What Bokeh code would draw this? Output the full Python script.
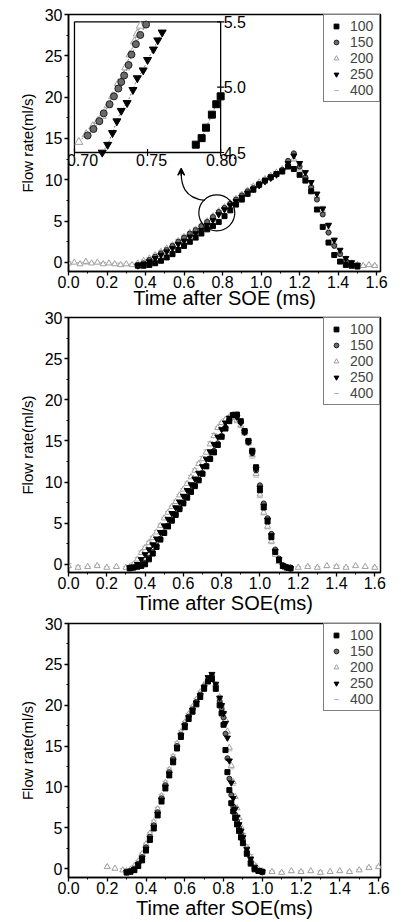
import math
from bokeh.plotting import figure
from bokeh.layouts import column
from bokeh.models import (Range1d, FixedTicker, NumeralTickFormatter, Legend, LegendItem,
                          Arrow, VeeHead)
from bokeh.core.properties import value
from bokeh.embed import file_html
from bokeh.resources import INLINE

nan = float("nan")

# ---------------- data ----------------
series_labels = ["100", "150", "200", "250", "400"]

x_ticks = [0.0, 0.2, 0.4, 0.6, 0.8, 1.0, 1.2, 1.4, 1.6]
x_minor = [0.1, 0.3, 0.5, 0.7, 0.9, 1.1, 1.3, 1.5]
y_ticks = [0, 5, 10, 15, 20, 25, 30]
y_minor = [2.5, 7.5, 12.5, 17.5, 22.5, 27.5]

# Panel 1
p1_x = [0.00, 0.03, 0.06, 0.09, 0.12, 0.15, 0.18, 0.21, 0.24, 0.27, 0.30, 0.33, 0.36, 0.39,
        0.42, 0.45, 0.48, 0.51, 0.54, 0.57, 0.60, 0.63, 0.66, 0.69, 0.72, 0.75, 0.78, 0.81,
        0.84, 0.87, 0.90, 0.93, 0.96, 0.99, 1.02, 1.05, 1.08, 1.11, 1.14, 1.17, 1.20, 1.23,
        1.26, 1.29, 1.32, 1.35, 1.38, 1.41, 1.44, 1.47, 1.50, 1.53, 1.56, 1.59]
p1_100 = [nan] * 12 + [-0.4, -0.4, -0.3, -0.1, 0.2, 0.6, 1.0, 1.5, 2.0, 2.5, 3.0, 3.5, 4.0, 4.4,
                       4.9, 5.6, 6.3, 7.0, 7.6, 8.3, 8.8, 9.4, 9.9, 10.3, 10.7, 11.0, 11.6, 11.3,
                       10.6, 9.9, 8.6, 6.4, 4.3, 2.4, 0.9, 0.1, -0.3, -0.4, -0.5] + [nan] * 3
p1_150 = [nan] * 12 + [-0.3, -0.1, 0.3, 0.7, 1.1, 1.5, 2.0, 2.5, 3.0, 3.5, 3.9, 4.4, 4.9, 5.5,
                       6.1, 6.6, 7.1, 7.6, 8.1, 8.6, 9.0, 9.5, 9.9, 10.3, 10.7, 11.2, 12.3, 13.2,
                       11.6, 10.3, 9.1, 7.6, 5.8, 3.6, 2.0, 1.0, 0.2, -0.2, -0.4] + [nan] * 3
p1_200 = [-0.1, 0.0, -0.2, 0.1, -0.1, 0.0, -0.2, -0.1, -0.2, -0.3, -0.2, -0.3, -0.1, 0.2,
          0.5, 0.9, 1.3, 1.7, 2.1, 2.6, 3.1, 3.6, 4.0, 4.5, 5.0, 5.6, 6.2, 6.7,
          7.2, 7.7, 8.2, 8.7, 9.2, 9.7, 10.1, 10.5, 10.9, 11.3, 11.9, 12.5, 11.4, 10.4,
          9.3, 8.0, 6.2, 3.8, 2.3, 1.3, 0.4, -0.1, -0.3, -0.4, -0.3, -0.4]
p1_250 = [nan] * 12 + [-0.4, -0.2, 0.1, 0.5, 0.9, 1.3, 1.7, 2.2, 2.6, 3.1, 3.5, 3.9, 4.5, 5.1,
                       5.8, 6.4, 6.9, 7.4, 7.9, 8.4, 8.9, 9.3, 9.8, 10.2, 10.6, 11.1, 12.0, 12.9,
                       12.0, 10.9, 9.7, 8.3, 6.5, 4.5, 2.7, 1.5, 0.5, 0.0, -0.3] + [nan] * 3
p1_400 = [0.1, -0.1, 0.0, -0.2, 0.0, -0.1, 0.0, -0.2, -0.1, -0.1, -0.3, -0.2, 0.0, 0.3,
          0.6, 1.0, 1.4, 1.8, 2.3, 2.8, 3.3, 3.7, 4.2, 4.6, 5.1, 5.7, 6.3, 6.8,
          7.3, 7.9, 8.4, 8.9, 9.4, 9.8, 10.2, 10.6, 11.0, 11.4, 11.8, 12.3, 12.0, 11.0,
          9.8, 8.5, 6.8, 4.8, 3.0, 1.7, 0.7, 0.1, -0.2, -0.3, -0.4, -0.3]

# Panel 1 inset (zoom of 0.70-0.80 ms)
inset_x_ticks = [0.70, 0.75, 0.80]
inset_y_ticks = [4.5, 5.0, 5.5]
inset_x_100 = [0.783, 0.787, 0.790, 0.794, 0.797, 0.800]
inset_y_100 = [4.56, 4.61, 4.69, 4.79, 4.87, 4.93]
inset_x_150 = [0.709, 0.713, 0.717, 0.720, 0.724, 0.727, 0.730, 0.732, 0.734, 0.737, 0.739, 0.742, 0.745, 0.749]
inset_y_150 = [4.63, 4.68, 4.74, 4.80, 4.87, 4.93, 4.99, 5.04, 5.09, 5.17, 5.25, 5.33, 5.40, 5.48]
inset_x_200 = [0.703, 0.708, 0.7125, 0.716, 0.719, 0.723, 0.726, 0.730, 0.735, 0.738, 0.741, 0.743, 0.745]
inset_y_200 = [4.58, 4.64, 4.70, 4.74, 4.78, 4.86, 4.93, 5.03, 5.15, 5.25, 5.35, 5.41, 5.47]
inset_x_250 = [0.719, 0.7227, 0.726, 0.729, 0.732, 0.736, 0.740, 0.743, 0.747, 0.750, 0.754, 0.757, 0.760]
inset_y_250 = [4.50, 4.56, 4.65, 4.74, 4.82, 4.88, 4.98, 5.07, 5.13, 5.21, 5.29, 5.36, 5.42]

# Panel 2
p2_x = [0.00, 0.05, 0.10, 0.15, 0.20, 0.25, 0.30,
        0.32, 0.34, 0.36, 0.38, 0.40, 0.42, 0.44, 0.46, 0.48, 0.50, 0.52, 0.54, 0.56, 0.58,
        0.60, 0.62, 0.64, 0.66, 0.68, 0.70, 0.72, 0.74, 0.76, 0.78, 0.80, 0.82, 0.84, 0.86,
        0.88, 0.90, 0.92, 0.94, 0.96, 0.98, 1.00, 1.02, 1.04, 1.06, 1.08, 1.10, 1.12, 1.14, 1.16,
        1.20, 1.25, 1.30, 1.35, 1.40, 1.45, 1.50, 1.55, 1.60]
p2_100 = [nan] * 7 + [-0.5, -0.4, -0.3, -0.2, 0.0, 0.6, 1.3, 2.1, 3.0, 3.8, 4.6, 5.3, 6.0, 6.7,
                      7.4, 8.1, 8.8, 9.5, 10.2, 11.0, 11.9, 12.8, 13.6, 14.5, 15.5, 16.5, 17.4, 18.1,
                      18.2, 17.4, 16.2, 15.0, 13.8, 11.8, 9.0, 6.9, 5.2, 3.3, 1.5, 0.5, -0.2, -0.4, -0.5] + [nan] * 9
p2_150 = [nan] * 7 + [-0.4, -0.4, -0.2, -0.1, 0.2, 0.8, 1.5, 2.3, 3.1, 3.9, 4.7, 5.4, 6.1, 6.8,
                      7.5, 8.2, 8.9, 9.6, 10.3, 11.1, 12.0, 12.9, 13.8, 14.7, 15.6, 16.6, 17.5, 18.2,
                      18.0, 17.3, 16.0, 14.8, 13.5, 11.4, 9.6, 7.4, 5.6, 3.7, 1.8, 0.7, -0.1, -0.3, -0.4] + [nan] * 9
p2_200 = [-0.2, -0.4, -0.3, -0.2, -0.4, -0.3, -0.4,
          -0.3, 0.0, 0.6, 1.4, 2.0, 2.6, 3.2, 3.9, 4.7, 5.6, 6.3, 7.0, 7.6, 8.4,
          9.1, 9.8, 10.6, 11.4, 12.2, 12.8, 13.6, 14.6, 15.6, 16.6, 17.2, 17.6, 17.9, 17.8,
          17.5, 16.9, 16.0, 14.8, 13.3, 11.0, 8.5, 6.3, 4.6, 2.8, 1.2, 0.3, -0.3, -0.4, -0.4,
          -0.4, -0.3, -0.4, -0.2, -0.3, -0.4, -0.2, -0.3, -0.4]
p2_250 = [nan] * 7 + [-0.4, -0.3, 0.0, 0.6, 1.2, 1.8, 2.4, 3.1, 3.9, 4.7, 5.5, 6.2, 6.9, 7.6,
                      8.3, 9.0, 9.7, 10.4, 11.1, 11.9, 12.8, 13.7, 14.6, 15.5, 16.4, 17.2, 17.8, 18.2,
                      17.9, 17.2, 16.1, 14.9, 13.6, 11.6, 9.3, 7.1, 5.4, 3.5, 1.6, 0.6, -0.2, -0.4, -0.5] + [nan] * 9
p2_400 = [0.1, -0.2, -0.3, -0.1, -0.3, -0.4, -0.3,
          -0.2, 0.2, 0.8, 1.6, 2.2, 2.8, 3.4, 4.1, 4.9, 5.7, 6.4, 7.1, 7.8, 8.5,
          9.2, 10.0, 10.8, 11.6, 12.4, 13.1, 13.9, 14.9, 15.9, 16.7, 17.3, 17.7, 17.8, 17.6,
          17.2, 16.6, 15.7, 14.5, 12.9, 10.6, 8.1, 6.0, 4.3, 2.5, 1.0, 0.2, -0.3, -0.4, -0.3,
          -0.3, -0.2, -0.3, -0.4, -0.1, -0.3, -0.2, -0.4, -0.3]

# Panel 3
p3_x = [0.20, 0.24, 0.28,
        0.30, 0.32, 0.34, 0.36, 0.38, 0.40, 0.42, 0.44, 0.46, 0.48, 0.50, 0.52, 0.54, 0.56,
        0.58, 0.60, 0.62, 0.64, 0.66, 0.68, 0.70, 0.72,
        0.74, 0.76, 0.78, 0.79, 0.80, 0.81, 0.82, 0.83, 0.84, 0.85, 0.86, 0.87, 0.88, 0.89,
        0.90, 0.92, 0.94, 0.96, 0.98, 1.00,
        1.05, 1.10, 1.15, 1.20, 1.25, 1.30, 1.35, 1.40, 1.45, 1.50, 1.55, 1.60]
p3_100 = [nan] * 3 + [-0.5, -0.4, -0.2, 0.3, 1.0, 2.2, 3.5, 4.9, 6.5, 8.2, 9.8, 11.4, 13.0, 14.7,
                      16.1, 17.3, 18.3, 19.2, 20.1, 21.0, 22.0, 22.9,
                      23.2, 22.0, 20.0, 19.0, 17.6, 14.5, 11.8, 9.6, 8.0, 7.0, 6.2, 5.4, 4.6, 3.8,
                      3.1, 1.8, 0.6, -0.1, -0.3, -0.4] + [nan] * 12
p3_150 = [nan] * 3 + [-0.4, -0.3, 0.0, 0.6, 1.4, 2.6, 3.9, 5.3, 6.9, 8.6, 10.2, 11.8, 13.4, 15.0,
                      16.4, 17.6, 18.6, 19.5, 20.4, 21.3, 22.3, 23.1,
                      23.6, 22.4, 20.5, 19.6, 18.5, 16.5, 13.5, 11.0, 9.0, 7.6, 6.6, 5.8, 5.0, 4.2,
                      3.5, 2.1, 0.9, 0.0, -0.3, -0.4] + [nan] * 12
p3_200 = [0.2, 0.0, -0.2,
          -0.3, -0.1, 0.3, 0.9, 1.8, 3.0, 4.3, 5.7, 7.3, 8.9, 10.5, 12.1, 13.7, 15.3,
          16.7, 17.9, 18.9, 19.8, 20.7, 21.6, 22.5, 23.2,
          23.4, 22.5, 21.0, 20.1, 19.2, 18.2, 16.8, 14.8, 12.6, 10.6, 8.8, 7.4, 6.2, 5.1,
          4.2, 2.6, 1.4, 0.4, -0.1, -0.3,
          -0.4, -0.5, -0.3, -0.4, -0.3, -0.5, -0.4, -0.3, -0.4, -0.2, 0.1, 0.2]
p3_250 = [nan] * 3 + [-0.4, -0.3, -0.1, 0.5, 1.3, 2.4, 3.7, 5.1, 6.7, 8.4, 10.0, 11.6, 13.2, 14.8,
                      16.3, 17.5, 18.5, 19.4, 20.3, 21.2, 22.2, 23.4,
                      23.8, 22.6, 20.9, 20.0, 19.0, 17.8, 16.0, 13.2, 10.5, 8.6, 7.3, 6.3, 5.4, 4.6,
                      3.8, 2.4, 1.2, 0.2, -0.2, -0.4] + [nan] * 12
p3_400 = [0.1, -0.1, 0.0,
          -0.2, 0.0, 0.4, 1.0, 1.9, 3.1, 4.4, 5.9, 7.5, 9.1, 10.7, 12.3, 13.9, 15.5,
          16.9, 18.0, 19.0, 19.9, 20.8, 21.7, 22.5, 23.0,
          23.0, 22.3, 20.9, 20.1, 19.2, 18.1, 16.5, 14.4, 12.2, 10.2, 8.6, 7.2, 6.0, 5.0,
          4.3, 2.9, 1.7, 0.6, 0.0, -0.3,
          -0.3, -0.4, -0.5, -0.3, -0.4, -0.3, -0.5, -0.4, -0.3, -0.1, 0.2, 0.3]

# ---------------- styles ----------------
FONT = "Liberation Sans"
styles = {
    "100": dict(marker="square", size=5, fill_color="black", line_color="black"),
    "150": dict(marker="circle", size=5, fill_color="#6a6a6a", line_color="#202020"),
    "200": dict(marker="triangle", size=6, fill_color="white", line_color="#a0a0a0"),
    "250": dict(marker="inverted_triangle", size=6, fill_color="black", line_color="black"),
    "400": dict(marker="dash", size=6, fill_color="#b4b4b4", line_color="#b4b4b4"),
}
draw_order = ["400", "200", "150", "250", "100"]


def make_panel(xs, ys, x_end, y_start, height, top, bottom, left, right, xlabel, title_standoff):
    p = figure(width=401, height=height, x_range=Range1d(0, x_end), y_range=Range1d(y_start, 30),
               output_backend="svg", toolbar_location=None,
               min_border_left=left, min_border_right=right,
               min_border_top=top, min_border_bottom=bottom)
    p.grid.visible = False
    p.outline_line_color = "black"
    p.outline_line_width = 1.5
    p.background_fill_color = "white"
    p.border_fill_color = "white"
    for ax in (p.xaxis[0], p.yaxis[0]):
        ax.axis_line_width = 1.5
        ax.major_tick_line_width = 1.3
        ax.minor_tick_line_width = 1.0
        ax.major_tick_out = 4
        ax.major_tick_in = 0
        ax.minor_tick_out = 2
        ax.minor_tick_in = 0
        ax.major_label_text_font = FONT
        ax.major_label_text_font_size = "16px"
        ax.major_label_text_color = "black"
        ax.major_label_text_line_height = 1.0
        ax.axis_label_text_font = FONT
        ax.axis_label_text_font_style = "normal"
        ax.axis_label_text_color = "black"
        ax.axis_label_text_line_height = 1.0
    p.xaxis.ticker = FixedTicker(ticks=x_ticks, minor_ticks=x_minor)
    p.xaxis.formatter = NumeralTickFormatter(format="0.0")
    p.yaxis.ticker = FixedTicker(ticks=y_ticks, minor_ticks=y_minor)
    p.xaxis.axis_label = xlabel
    p.xaxis.axis_label_text_font_size = "20px"
    p.xaxis.major_label_standoff = 0
    p.xaxis.axis_label_standoff = title_standoff
    p.yaxis.axis_label = "Flow rate(ml/s)"
    p.yaxis.axis_label_text_font_size = "15px"
    p.yaxis.major_label_standoff = 2
    p.yaxis.axis_label_standoff = 6

    rends = {}
    for lab in draw_order:
        st = styles[lab]
        rends[lab] = p.scatter(xs, ys[lab], marker=st["marker"], size=st["size"],
                               fill_color=st["fill_color"], line_color=st["line_color"],
                               line_width=1)
    legend = Legend(items=[LegendItem(label=lab, renderers=[rends[lab]]) for lab in series_labels],
                    location="top_right", margin=0, padding=3, spacing=0,
                    glyph_width=18, glyph_height=12, label_height=12, label_width=26,
                    label_standoff=5, label_text_font=FONT, label_text_font_size="14px",
                    label_text_line_height=1.0,
                    border_line_color="black", border_line_width=1.2,
                    background_fill_color="white", background_fill_alpha=1.0)
    p.add_layout(legend)
    return p


p1 = make_panel(p1_x, {"100": p1_100, "150": p1_150, "200": p1_200, "250": p1_250, "400": p1_400},
                1.62, -1.1, 311, 14, 39, 68, 17, "Time after SOE (ms)", -4)
p2 = make_panel(p2_x, {"100": p2_100, "150": p2_150, "200": p2_200, "250": p2_250, "400": p2_400},
                1.63, -1.0, 305, 6, 43, 62, 21, "Time after SOE(ms)", 0)
p3 = make_panel(p3_x, {"100": p3_100, "150": p3_150, "200": p3_200, "250": p3_250, "400": p3_400},
                1.61, -1.1, 306, 7, 45, 67, 16, "Time after SOE(ms)", 0)

# ---------------- inset on panel 1 ----------------
box_left, box_right, box_bottom, box_top = 0.031, 0.79, 13.3, 29.1   # inset frame in main coords
ix0, ix1 = inset_x_ticks[0], inset_x_ticks[-1]
iy0, iy1 = inset_y_ticks[0], inset_y_ticks[-1]
sx = (ix1 - ix0) / (box_right - box_left)
sy = (iy1 - iy0) / (box_top - box_bottom)
p1.extra_x_ranges = {"ix": Range1d(ix0 - box_left * sx, ix0 + (1.62 - box_left) * sx)}
p1.extra_y_ranges = {"iy": Range1d(iy0 - (box_bottom + 1.1) * sy, iy0 + (30 - box_bottom) * sy)}

p1.quad(left=[ix0], right=[ix1], bottom=[iy0], top=[iy1], x_range_name="ix", y_range_name="iy",
        fill_color="white", line_color="black", line_width=1.3)
inset_sets = [("100", inset_x_100, inset_y_100), ("200", inset_x_200, inset_y_200),
              ("150", inset_x_150, inset_y_150), ("250", inset_x_250, inset_y_250)]
for lab, xs, ys in inset_sets:
    st = styles[lab]
    p1.line(xs, ys, x_range_name="ix", y_range_name="iy", line_color="#555555",
            line_width=0.8, line_dash="2 2")
    p1.scatter(xs, ys, x_range_name="ix", y_range_name="iy", marker=st["marker"],
               size=st["size"] + 2, fill_color=st["fill_color"], line_color=st["line_color"])
# inset ticks and labels
p1.scatter(inset_x_ticks, [iy0] * 3, x_range_name="ix", y_range_name="iy", marker="dash",
           angle=math.pi / 2, size=7, line_color="black", line_width=1.2)
p1.scatter([ix1] * 3, inset_y_ticks, x_range_name="ix", y_range_name="iy", marker="dash",
           size=7, line_color="black", line_width=1.2)
p1.text(x=inset_x_ticks, y=[iy0] * 3, text=["%.2f" % v for v in inset_x_ticks],
        x_range_name="ix", y_range_name="iy", text_align="center", text_baseline="top",
        x_offset=[8, 4, 1], y_offset=1, text_font=value(FONT), text_font_size="16px",
        text_color="black")
p1.text(x=[ix1] * 3, y=inset_y_ticks, text=["%.1f" % v for v in inset_y_ticks],
        x_range_name="ix", y_range_name="iy", text_align="left", text_baseline="middle",
        x_offset=3, text_font=value(FONT), text_font_size="16px", text_color="black")

# zoom circle + curved arrow
zoom_cx, zoom_cy = 0.77, 6.0
p1.scatter([zoom_cx], [zoom_cy], marker="circle", size=36, fill_color=None,
           line_color="black", line_width=1.2)
p1.bezier(x0=[0.708], y0=[7.5], x1=[0.585], y1=[10.9], cx0=[0.60], cy0=[7.8],
          cx1=[0.585], cy1=[9.4], line_color="black", line_width=1.2)
p1.add_layout(Arrow(end=VeeHead(size=7, line_width=1.2, fill_color="black"),
                    x_start=0.585, y_start=10.5, x_end=0.585, y_end=11.4,
                    line_width=1.2, line_color="black"))

layout = column(p1, p2, p3, spacing=0)
open("out.html", "w").write(file_html(layout, INLINE))
